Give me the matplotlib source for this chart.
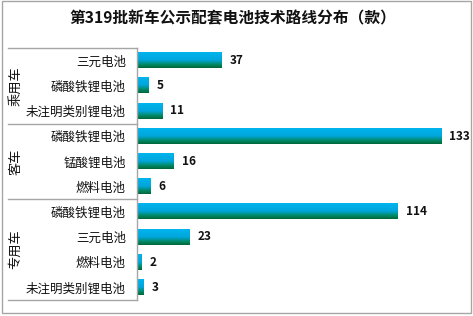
import numpy as np
import matplotlib
matplotlib.use("Agg")
import matplotlib.pyplot as plt
from matplotlib.colors import LinearSegmentedColormap
from matplotlib.patches import Rectangle
from matplotlib.lines import Line2D

plt.rcParams['font.family'] = ['Noto Sans CJK SC', 'DejaVu Sans']

title = "第319批新车公示配套电池技术路线分布（款）"
groups = ["乘用车", "客车", "专用车"]
group_sizes = [3, 3, 4]
categories = ["三元电池", "磷酸铁锂电池", "未注明类别锂电池",
              "磷酸铁锂电池", "锰酸锂电池", "燃料电池",
              "磷酸铁锂电池", "三元电池", "燃料电池", "未注明类别锂电池"]
values = [37, 5, 11, 133, 16, 6, 114, 23, 2, 3]

W, H = 473, 316
fig = plt.figure(figsize=(W / 100, H / 100), dpi=100)

# axes geometry in pixels
ax_left, ax_right, ax_top, ax_bottom = 137, 460, 48, 300
ax = fig.add_axes([ax_left / W, 1 - ax_bottom / H, (ax_right - ax_left) / W, (ax_bottom - ax_top) / H])
px_per_unit = (441 - 137) / 133.0
ax.set_xlim(0, (ax_right - ax_left) / px_per_unit)
n = len(values)
ax.set_ylim(n - 0.5, -0.5)

cmap = LinearSegmentedColormap.from_list(
    "grad", [(0.0, "#00B4EE"), (0.5, "#00A6DC"), (0.78, "#008A66"), (1.0, "#00663A")])
grad = np.linspace(0, 1, 64).reshape(-1, 1)
bar_h = 0.6
for i, v in enumerate(values):
    ax.imshow(grad, cmap=cmap, aspect='auto', interpolation='bilinear',
              extent=(0, v, i + bar_h / 2, i - bar_h / 2), zorder=2)
    ax.text(v + 8 / px_per_unit, i, str(v), va='center', ha='left',
            fontsize=8.5, fontweight='bold', color='#111111', zorder=3)

ax.set_xticks([])
ax.set_yticks(range(n))
ax.set_yticklabels(categories, fontsize=9, color='#111111')
ax.tick_params(axis='y', length=0, pad=8)
for s in ['top', 'right', 'bottom']:
    ax.spines[s].set_visible(False)
ax.spines['left'].set_color('#A6A6A6')
ax.spines['left'].set_linewidth(1.0)
ax.set_ylim(n - 0.5, -0.5)
ax.patch.set_alpha(0)

# group box lines and labels (figure pixel coordinates)
def fy(py):
    return 1 - py / H

row_h = (ax_bottom - ax_top) / n
start = 0
bounds = [ax_top]
for g, sz in zip(groups, group_sizes):
    start += sz
    bounds.append(ax_top + start * row_h)
for b in bounds:
    fig.add_artist(Line2D([8 / W, ax_left / W], [fy(b), fy(b)], color='#A6A6A6', lw=1.0))
start = 0
for g, sz in zip(groups, group_sizes):
    cy = ax_top + (start + sz / 2) * row_h
    fig.text(16 / W, fy(cy), g, rotation=90, ha='center', va='center', fontsize=9.5, color='#111111')
    start += sz

# title
fig.text(233 / W, fy(18), title, ha='center', va='center', fontsize=11.3, fontweight='bold', color='#111111')

# outer border
fig.add_artist(Rectangle((2 / W, fy(313)), (471 - 2) / W, (313 - 1) / H, transform=fig.transFigure,
                         fill=False, edgecolor='#A6A6A6', lw=1.0))

fig.savefig("out.png", dpi=100)
